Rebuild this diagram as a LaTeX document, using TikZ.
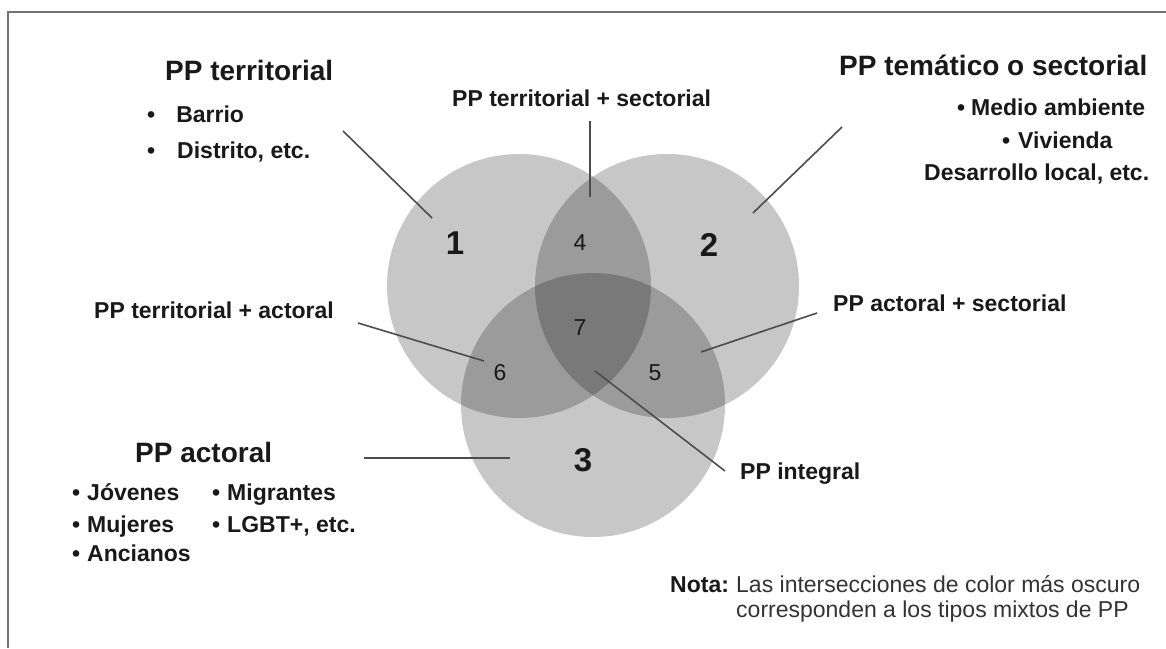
\documentclass[tikz,border=0pt]{standalone}
\usepackage{fontspec}
\setmainfont{Liberation Sans}
\newcommand{\itm}[1][9pt]{\textbullet\hspace{#1}}

\tikzset{
  head/.style={font=\bfseries\fontsize{28}{32}\selectfont, anchor=base west, inner sep=0pt, text=black!90},
  lab/.style={font=\bfseries\fontsize{23}{27}\selectfont, anchor=base west, inner sep=0pt, text=black!90},
  notetext/.style={font=\fontsize{23}{27}\selectfont, anchor=base west, inner sep=0pt, text=black!80},
  bignum/.style={font=\bfseries\fontsize{33}{36}\selectfont, inner sep=0pt, text=black!90},
  num/.style={font=\fontsize{23}{26}\selectfont, inner sep=0pt, text=black!90},
  leader/.style={draw=black!70, line width=1.6pt},
  venn/.style={fill=black, fill opacity=0.22},
}

\begin{document}
\begin{tikzpicture}[x=1pt, y=-1pt]
\useasboundingbox (0,0) rectangle (1166,648);
% frame
\draw[black!55, line width=2.5pt] (8,648) -- (8,12) -- (1166,12);
% circles
\foreach \c/\x/\y in {one/519/286, two/667/286, three/593/405}
  \fill[venn] (\x,\y) circle (132pt);
% numbers
\foreach \n/\x/\y in {1/455/243, 2/709/245, 3/583/460}
  \node[bignum] (n\n) at (\x,\y) {\n};
\foreach \n/\x/\y in {4/580/243, 5/655/373, 6/500/373, 7/580/328}
  \node[num] (n\n) at (\x,\y) {\n};

% PP territorial
\node[head] (terr) at (165,80) {PP territorial};
\node[lab] (barrio) at (147,122) {\itm[21pt]Barrio};
\node[lab] (distrito) at (147,158) {\itm[22pt]Distrito, etc.};
% PP tematico
\node[head] (tema) at (839,75) {PP temático o sectorial};
\node[lab] (medio) at (957,115) {\itm[6pt]Medio ambiente};
\node[lab] (vivienda) at (1002,148) {\itm[8pt]Vivienda};
\node[lab] (desarrollo) at (924,180) {Desarrollo local, etc.};
% PP actoral
\node[head] (actoral) at (135,462) {PP actoral};
\foreach \m/\x/\y/\descr in {jov/72/500/Jóvenes, mig/212/500/Migrantes,
    muj/72/532/Mujeres, lgbt/212/532/{LGBT+, etc.}, anc/72/561/Ancianos}
  \node[lab] (\m) at (\x,\y) {\itm[7pt]\descr};
% mixed types
\node[lab] (tersec) at (452,106) {PP territorial + sectorial};
\node[lab] (teract) at (94,318) {PP territorial + actoral};
\node[lab] (actsec) at (833,311) {PP actoral + sectorial};
\node[lab] (integral) at (740,479) {PP integral};

% leader lines
\coordinate (a1) at (343,131); \coordinate (b1) at (432,218);
\coordinate (a4) at (590,121); \coordinate (b4) at (590,197);
\coordinate (a2) at (842,127); \coordinate (b2) at (753,213);
\coordinate (a6) at (358,323); \coordinate (b6) at (484,361);
\coordinate (a5) at (817,313); \coordinate (b5) at (701,352);
\coordinate (a3) at (364,458); \coordinate (b3) at (510,458);
\coordinate (a7) at (725,471); \coordinate (b7) at (595,371);
\foreach \k in {1,...,7}
  \draw[leader] (a\k) -- (b\k);

% note
\node[lab] (nota) at (670,592) {Nota:};
\node[notetext] (notaA) at (736,592) {Las intersecciones de color más oscuro};
\node[notetext] (notaB) at (736,617) {corresponden a los tipos mixtos de PP};
\end{tikzpicture}
\end{document}
